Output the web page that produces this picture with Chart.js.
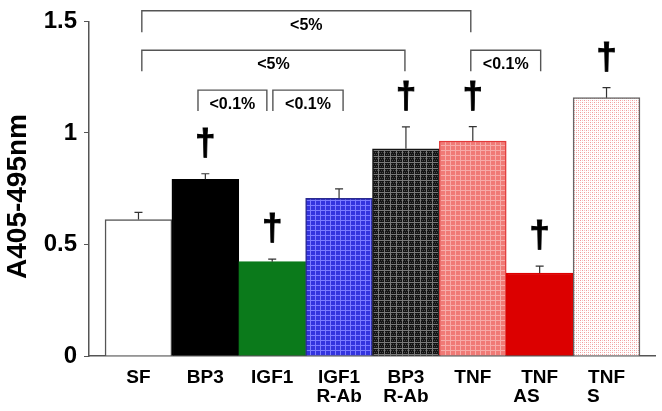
<!DOCTYPE html>
<html>
<head>
<meta charset="utf-8">
<script src="https://cdn.jsdelivr.net/npm/chart.js@4"></script>
<style>
  body { margin: 0; background: #fff; }
  #wrap { width: 662px; height: 411px; }
</style>
</head>
<body>
<div id="wrap"><canvas id="bar-chart"></canvas></div>
<script>
// data
var categories = [["SF"], ["BP3"], ["IGF1"], ["IGF1", "R-Ab"], ["BP3", "R-Ab"], ["TNF"], ["TNF", "AS     "], ["TNF", "S     "]];
var means = [0.612, 0.792, 0.423, 0.707, 0.929, 0.964, 0.372, 1.158];
var errors = [0.032, 0.025, 0.011, 0.042, 0.098, 0.064, 0.031, 0.045];
var dagger = [false, true, true, false, true, true, true, true];
var yTicks = [0, 0.5, 1, 1.5];
var yTickLabels = ["0", "0.5", "1", "1.5"];
// significance brackets: from, to (bar index units), top, leg end, label
var brackets = [
  [0.05, 4.97, 1.548, 1.451, "<5%"],
  [0.05, 3.985, 1.371, 1.277, "<5%"],
  [0.89, 1.92, 1.192, 1.098, "<0.1%"],
  [2.01, 3.06, 1.192, 1.098, "<0.1%"],
  [4.97, 6.015, 1.371, 1.277, "<0.1%"]
];

var FONT = "Arial, 'Liberation Sans', sans-serif";
var ctx = document.getElementById('bar-chart').getContext("2d");

function makePattern(size, bg, draw) {
  var c = document.createElement('canvas');
  c.width = size; c.height = size;
  var g = c.getContext('2d');
  g.fillStyle = bg;
  g.fillRect(0, 0, size, size);
  draw(g);
  return ctx.createPattern(c, 'repeat');
}

var bluePat = makePattern(5, '#3434de', function(g) {
  g.fillStyle = '#7c7cff';
  g.fillRect(0, 0, 5, 1);
  g.fillRect(0, 0, 1, 5);
});
var darkPat = makePattern(6, '#141414', function(g) {
  g.fillStyle = '#4a4a4a';
  for (var i = 0; i < 6; i += 2) for (var j = 0; j < 6; j += 2) g.fillRect(i + (j % 4 ? 1 : 0), j, 1, 1);
  g.fillStyle = '#7a7a7a';
  g.fillRect(0, 0, 6, 1);
  g.fillRect(0, 0, 1, 6);
});
var salmonPat = makePattern(5, '#f07a76', function(g) {
  g.fillStyle = '#f7aba8';
  g.fillRect(0, 0, 5, 1);
  g.fillRect(0, 0, 1, 5);
});
var dotPat = makePattern(4, '#ffffff', function(g) {
  g.fillStyle = '#f19a9a';
  g.fillRect(0, 0, 1, 1);
  g.fillRect(2, 2, 1, 1);
  g.fillStyle = '#f7c4c4';
  g.fillRect(2, 0, 1, 1);
  g.fillRect(0, 2, 1, 1);
});

var fills = ['#ffffff', '#000000', '#0b7a1b', bluePat, darkPat, salmonPat, '#dc0000', dotPat];
var borders = ['#555555', '#000000', '#0b7a1b', '#2a2a90', '#141414', '#e23a3a', '#dc0000', '#666666'];

var annotations = {
  id: 'annotations',
  afterDatasetsDraw: function(chart) {
    var c = chart.ctx;
    var xs = chart.scales.x, ys = chart.scales.y;
    var meta = chart.getDatasetMeta(0);
    c.save();
    // error bars (upper whisker only)
    c.strokeStyle = '#333';
    c.lineWidth = 1.2;
    for (var i = 0; i < means.length; i++) {
      var px = meta.data[i].x;
      var top = ys.getPixelForValue(means[i] + errors[i]);
      var base = ys.getPixelForValue(means[i]);
      c.beginPath();
      c.moveTo(px, base); c.lineTo(px, top);
      c.moveTo(px - 4, top); c.lineTo(px + 4, top);
      c.stroke();
      if (dagger[i]) {
        c.fillStyle = '#000';
        c.strokeStyle = '#000';
        c.lineWidth = 0.8;
        c.font = 'bold 37px ' + FONT;
        c.textAlign = 'center';
        c.textBaseline = 'middle';
        c.fillText('\u2020', px, top - 29);
        c.strokeText('\u2020', px, top - 29);
        c.strokeStyle = '#333';
        c.lineWidth = 1.2;
      }
    }
    // brackets
    c.strokeStyle = '#555';
    c.lineWidth = 1.4;
    c.fillStyle = '#000';
    c.font = 'bold 16px ' + FONT;
    c.textAlign = 'center';
    c.textBaseline = 'middle';
    brackets.forEach(function(b) {
      var x0 = xs.getPixelForValue(b[0]), x1 = xs.getPixelForValue(b[1]);
      var y0 = ys.getPixelForValue(b[2]), y1 = ys.getPixelForValue(b[3]);
      c.beginPath();
      c.moveTo(x0, y1); c.lineTo(x0, y0); c.lineTo(x1, y0); c.lineTo(x1, y1);
      c.stroke();
      c.fillText(b[4], (x0 + x1) / 2, y0 + 14.5);
    });
    c.restore();
  }
};

new Chart(document.getElementById("bar-chart"), {
  type: 'bar',
  data: {
    datasets: [{
      data: means.map(function(v, i) { return {x: i, y: v}; }),
      backgroundColor: fills,
      borderColor: borders,
      borderWidth: 1.5,
      barPercentage: 1,
      categoryPercentage: 1
    }]
  },
  options: {
    responsive: true,
    maintainAspectRatio: false,
    animation: false,
    layout: { padding: { top: 20, right: 7, left: 0, bottom: 0 } },
    plugins: {
      legend: { display: false },
      tooltip: { enabled: false }
    },
    scales: {
      x: {
        type: 'linear',
        offset: false,
        min: -0.74,
        max: 7.725,
        afterBuildTicks: function(scale) {
          scale.ticks = categories.map(function(c, i) { return {value: i}; });
        },
        afterFit: function(scale) { scale.height = 55; },
        grid: { offset: false, drawOnChartArea: false, drawTicks: false },
        border: { display: true, color: '#555', width: 1.5 },
        ticks: {
          autoSkip: false,
          maxRotation: 0,
          padding: 12,
          color: '#000',
          font: { family: FONT, size: 19, weight: 'bold', lineHeight: 1 },
          callback: function(v) { return categories[v] || ''; }
        }
      },
      y: {
        min: 0,
        max: 1.5,
        afterBuildTicks: function(scale) {
          scale.ticks = yTicks.map(function(v) { return {value: v}; });
        },
        afterFit: function(scale) { scale.width = 89; },
        grid: { drawOnChartArea: false, drawTicks: true, tickLength: 5, tickColor: '#555' },
        border: { display: true, color: '#555', width: 1.5 },
        ticks: {
          padding: 7,
          color: '#000',
          font: { family: FONT, size: 24, weight: 'bold' },
          callback: function(v, i) { return yTickLabels[i]; }
        },
        title: {
          display: true,
          text: 'A405-495nm  ',
          color: '#000',
          padding: 1,
          font: { family: FONT, size: 28, weight: 'bold' }
        }
      }
    }
  },
  plugins: [annotations]
});
</script>
</body>
</html>
